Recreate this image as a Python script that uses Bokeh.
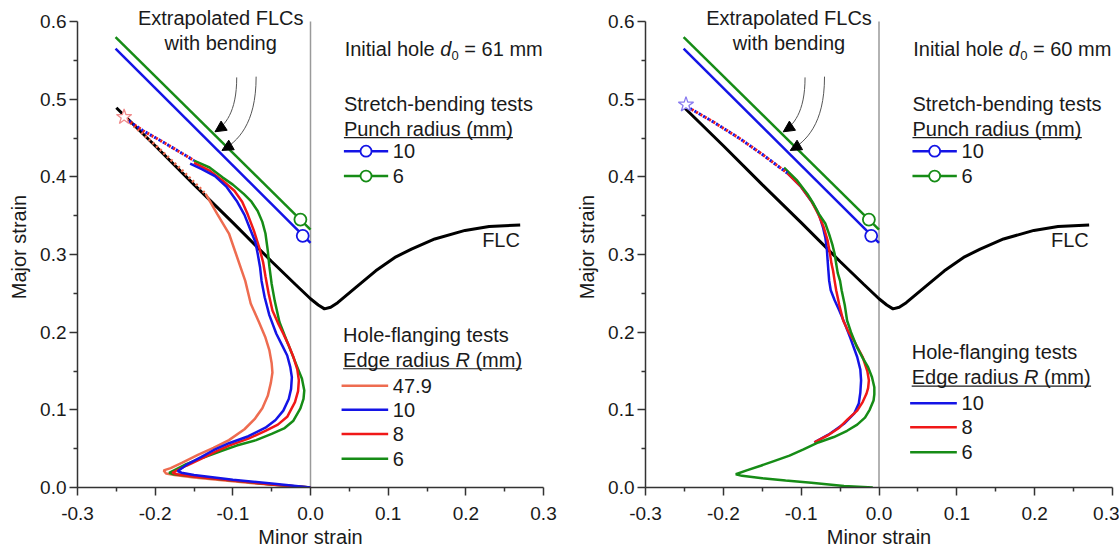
from bokeh.plotting import figure
from bokeh.layouts import row
from bokeh.models import (Range1d, Label, Arrow, NormalHead, FixedTicker,
                          PrintfTickFormatter)
from bokeh.embed import file_html
from bokeh.resources import INLINE

FONT = "Liberation Sans"
TEXT = "#1a1a1a"
AXIS = "#333333"
BLUE = "#1414e6"
RED = "#f01818"
GREEN = "#168c16"
CORAL = "#ee6c50"

# ---------------- axes ----------------
x_ticks = [-0.3, -0.2, -0.1, 0.0, 0.1, 0.2, 0.3]
x_minor = [-0.25, -0.15, -0.05, 0.05, 0.15, 0.25]
y_ticks = [0.0, 0.1, 0.2, 0.3, 0.4, 0.5, 0.6]
y_minor = [0.05, 0.15, 0.25, 0.35, 0.45, 0.55]

# ---------------- forming limit curve (both panels) ----------------
flc_x = [-0.250, -0.200, -0.150, -0.100, -0.050, -0.020, 0.000, 0.010, 0.018, 0.026,
         0.035, 0.060, 0.084, 0.110, 0.130, 0.160, 0.199, 0.230, 0.250, 0.270]
flc_y = [0.489, 0.440, 0.390, 0.341, 0.291, 0.262, 0.243, 0.235, 0.230, 0.232,
         0.238, 0.259, 0.279, 0.297, 0.307, 0.320, 0.331, 0.336, 0.337, 0.338]

# extrapolated FLCs with bending (punch radius 10 and 6 mm)
ext10_x = [-0.251, 0.000]
ext10_y = [0.565, 0.315]
ext6_x = [-0.251, 0.000]
ext6_y = [0.580, 0.332]

# stretch-bending test results
sb10_x = [-0.010]
sb10_y = [0.324]
sb6_x = [-0.013]
sb6_y = [0.345]

# arrows pointing at the extrapolated FLCs
arc_x0 = [-0.095, -0.070]
arc_y0 = [0.528, 0.529]
arc_x1 = [-0.123, -0.114]
arc_y1 = [0.458, 0.434]

# ---------------- hole-flanging strain paths, d0 = 61 mm ----------------
h61_r479_x = [-0.135, -0.120, -0.105, -0.096, -0.084, -0.077, -0.066, -0.058, -0.053, -0.050,
              -0.049, -0.051, -0.055, -0.062, -0.072, -0.085, -0.105, -0.125, -0.145, -0.165,
              -0.180, -0.189, -0.186, -0.175, -0.150, -0.120, -0.080, -0.040, 0.000]
h61_r479_y = [0.378, 0.352, 0.327, 0.301, 0.266, 0.237, 0.212, 0.193, 0.177, 0.160,
              0.148, 0.135, 0.118, 0.102, 0.088, 0.075, 0.061, 0.051, 0.042, 0.032,
              0.025, 0.022, 0.018, 0.016, 0.013, 0.010, 0.006, 0.003, 0.000]

h61_r10_x = [-0.155, -0.140, -0.123, -0.108, -0.095, -0.085, -0.077, -0.071, -0.068, -0.065,
             -0.063, -0.059, -0.053, -0.044, -0.036, -0.030, -0.026, -0.024, -0.025, -0.028,
             -0.035, -0.045, -0.058, -0.080, -0.105, -0.125, -0.141, -0.160, -0.171, -0.166,
             -0.150, -0.100, -0.050, 0.000]
h61_r10_y = [0.417, 0.410, 0.401, 0.387, 0.369, 0.351, 0.331, 0.316, 0.301, 0.284,
             0.266, 0.245, 0.222, 0.198, 0.182, 0.170, 0.155, 0.142, 0.127, 0.114,
             0.099, 0.087, 0.077, 0.066, 0.057, 0.048, 0.039, 0.029, 0.021, 0.019,
             0.016, 0.010, 0.005, 0.000]

h61_r8_x = [-0.150, -0.130, -0.113, -0.098, -0.088, -0.081, -0.073, -0.066, -0.061, -0.058,
            -0.054, -0.049, -0.042, -0.035, -0.028, -0.022, -0.017, -0.015, -0.016, -0.020,
            -0.030, -0.042, -0.058, -0.080, -0.105, -0.125, -0.141, -0.160, -0.178, -0.172,
            -0.150, -0.100, -0.050, 0.000]
h61_r8_y = [0.418, 0.408, 0.395, 0.382, 0.368, 0.352, 0.331, 0.309, 0.290, 0.272,
            0.250, 0.228, 0.212, 0.198, 0.183, 0.168, 0.152, 0.138, 0.124, 0.110,
            0.091, 0.081, 0.073, 0.063, 0.054, 0.045, 0.037, 0.028, 0.019, 0.017,
            0.014, 0.009, 0.004, 0.000]

h61_r6_x = [-0.150, -0.130, -0.113, -0.100, -0.086, -0.076, -0.068, -0.062, -0.058, -0.055,
            -0.053, -0.050, -0.046, -0.040, -0.033, -0.025, -0.017, -0.011, -0.008, -0.009,
            -0.013, -0.022, -0.034, -0.050, -0.070, -0.095, -0.115, -0.137, -0.160, -0.182,
            -0.176, -0.150, -0.100, -0.050, 0.000]
h61_r6_y = [0.421, 0.412, 0.399, 0.390, 0.378, 0.368, 0.356, 0.342, 0.327, 0.305,
            0.285, 0.262, 0.240, 0.213, 0.195, 0.175, 0.155, 0.140, 0.125, 0.114,
            0.102, 0.086, 0.076, 0.069, 0.061, 0.054, 0.047, 0.039, 0.030, 0.019,
            0.017, 0.014, 0.009, 0.004, 0.000]

# stretch-bending strain paths before necking, d0 = 61 mm
sb61_x = [-0.237, -0.215, -0.192, -0.170, -0.150]
sb61_y = [0.474, 0.459, 0.446, 0.433, 0.421]
sb61_low_x = [-0.237, -0.200, -0.165, -0.135]
sb61_low_y = [0.474, 0.441, 0.408, 0.378]
star61_x = [-0.240]
star61_y = [0.477]

# ---------------- hole-flanging strain paths, d0 = 60 mm ----------------
h60_r10_x = [-0.118, -0.100, -0.087, -0.080, -0.076, -0.072, -0.069, -0.067, -0.066, -0.065,
             -0.064, -0.062, -0.057, -0.051, -0.044, -0.037, -0.028, -0.024, -0.023, -0.024,
             -0.026, -0.032, -0.045, -0.065, -0.083]
h60_r10_y = [0.405, 0.387, 0.369, 0.357, 0.348, 0.335, 0.322, 0.307, 0.292, 0.279,
             0.266, 0.254, 0.241, 0.228, 0.211, 0.193, 0.168, 0.152, 0.138, 0.122,
             0.108, 0.095, 0.082, 0.068, 0.058]

h60_r8_x = [-0.118, -0.100, -0.087, -0.078, -0.071, -0.066, -0.063, -0.061, -0.059, -0.057,
            -0.055, -0.051, -0.046, -0.039, -0.032, -0.021, -0.015, -0.013, -0.014, -0.016,
            -0.021, -0.028, -0.040, -0.051, -0.066, -0.083]
h60_r8_y = [0.405, 0.387, 0.369, 0.352, 0.335, 0.318, 0.301, 0.288, 0.279, 0.266,
            0.254, 0.235, 0.215, 0.200, 0.189, 0.168, 0.150, 0.138, 0.128, 0.121,
            0.110, 0.099, 0.088, 0.077, 0.067, 0.058]

h60_r6_x = [-0.122, -0.105, -0.092, -0.084, -0.077, -0.069, -0.064, -0.060, -0.057, -0.055,
            -0.053, -0.050, -0.048, -0.044, -0.041, -0.036, -0.028, -0.021, -0.014, -0.009,
            -0.006, -0.006, -0.007, -0.012, -0.018, -0.028, -0.041, -0.058, -0.078, -0.097,
            -0.115, -0.135, -0.152, -0.170, -0.184, -0.176, -0.150, -0.120, -0.087, -0.045,
            -0.008]
h60_r6_y = [0.412, 0.395, 0.378, 0.365, 0.352, 0.340, 0.326, 0.313, 0.301, 0.288,
            0.276, 0.266, 0.254, 0.235, 0.215, 0.200, 0.180, 0.167, 0.155, 0.142,
            0.129, 0.120, 0.112, 0.100, 0.090, 0.081, 0.073, 0.065, 0.058, 0.049,
            0.041, 0.034, 0.028, 0.022, 0.017, 0.015, 0.012, 0.009, 0.006, 0.002,
            0.000]

sb60_x = [-0.246, -0.215, -0.180, -0.150, -0.118]
sb60_y = [0.490, 0.472, 0.450, 0.429, 0.405]
star60_x = [-0.248]
star60_y = [0.493]

TOP_BORDER = 6
BOTTOM_BORDER = 65
PX = 0.6 / 466.0                       # data units per screen pixel (both axes)
Y_END = 0.6 + (21 - TOP_BORDER) * PX   # head room above 0.6 for the top caption


def text(p, x, y, s, size="20px", style="normal", align="left", dx=0, dy=0):
    p.add_layout(Label(x=x, y=y, text=s, x_offset=dx, y_offset=dy, text_font=FONT,
                       text_font_size=size, text_font_style=style, text_align=align,
                       text_baseline="middle", text_color=TEXT))


def make_panel(width, border_left, border_right, d0_text, hf_series, hf_order, sb_path,
               sb_low_path, star, star_color, hf_head_y, hf_rows_y):
    p = figure(width=width, height=552, x_range=Range1d(-0.3, 0.3), y_range=Range1d(0.0, Y_END),
               output_backend="svg", toolbar_location=None,
               min_border_left=border_left, min_border_right=border_right,
               min_border_top=TOP_BORDER, min_border_bottom=BOTTOM_BORDER)
    p.outline_line_color = None
    p.grid.visible = False
    p.background_fill_color = "white"
    p.border_fill_color = "white"

    p.xaxis.ticker = FixedTicker(ticks=x_ticks, minor_ticks=x_minor)
    p.yaxis.ticker = FixedTicker(ticks=y_ticks, minor_ticks=y_minor)
    p.yaxis.bounds = (0.0, 0.6)
    p.xaxis.axis_label = "Minor strain"
    p.yaxis.axis_label = "Major strain"
    for ax in (p.xaxis[0], p.yaxis[0]):
        ax.formatter = PrintfTickFormatter(format="%.1f")
        ax.axis_line_color = AXIS
        ax.axis_line_width = 1.5
        ax.major_tick_line_color = AXIS
        ax.major_tick_line_width = 1.5
        ax.minor_tick_line_color = AXIS
        ax.minor_tick_line_width = 1.5
        ax.major_tick_in = 0
        ax.major_tick_out = 8
        ax.minor_tick_in = 0
        ax.minor_tick_out = 4
        ax.major_label_text_font = FONT
        ax.major_label_text_font_size = "19px"
        ax.major_label_text_color = TEXT
        ax.axis_label_text_font = FONT
        ax.axis_label_text_font_size = "20px"
        ax.axis_label_text_font_style = "normal"
        ax.axis_label_text_color = TEXT
    p.xaxis.major_label_standoff = 11
    p.xaxis.axis_label_standoff = 3
    p.yaxis.major_label_standoff = 3
    p.yaxis.axis_label_standoff = 7

    # plane-strain reference line
    p.segment(x0=[0.0], y0=[0.0], x1=[0.0], y1=[0.6], line_color="#9a9a9a", line_width=1.5)

    # extrapolated FLCs and the stretch-bending results on them
    p.line(ext6_x, ext6_y, line_color=GREEN, line_width=2.5)
    p.line(ext10_x, ext10_y, line_color=BLUE, line_width=2.5)
    p.scatter(sb6_x, sb6_y, marker="circle", size=12, fill_color="white",
              line_color=GREEN, line_width=1.8)
    p.scatter(sb10_x, sb10_y, marker="circle", size=12, fill_color="white",
              line_color=BLUE, line_width=1.8)

    # FLC
    p.line(flc_x, flc_y, line_color="black", line_width=3)

    # hole-flanging strain paths
    for key in hf_order:
        xs, ys, col, _ = hf_series[key]
        p.line(xs, ys, line_color=col, line_width=2.5)

    # stretch-bending strain paths (dotted) and fracture star
    if sb_low_path is not None:
        p.line(sb_low_path[0], sb_low_path[1], line_color=CORAL, line_width=3, line_dash="2 3")
    p.line(sb_path[0], sb_path[1], line_color=RED, line_width=3, line_dash="2 3")
    p.line(sb_path[0], sb_path[1], line_color=BLUE, line_width=3, line_dash="2 3",
           line_dash_offset=2)
    p.scatter(star[0], star[1], marker="star", size=16, fill_color="white",
              line_color=star_color, line_width=1.3)

    # curved arrows
    for x0, y0, x1, y1 in zip(arc_x0, arc_y0, arc_x1, arc_y1):
        dx, dy = x1 - x0, y1 - y0
        cx0, cy0 = x0, y0 + 0.65 * dy
        cx1, cy1 = x1 - 0.45 * dx, y1 - 0.12 * dy
        p.bezier(x0=[x0], y0=[y0], x1=[x1], y1=[y1], cx0=[cx0], cy0=[cy0], cx1=[cx1], cy1=[cy1],
                 line_color="#555555", line_width=1)
        p.add_layout(Arrow(x_start=cx1, y_start=cy1, x_end=x1, y_end=y1, line_alpha=0,
                           end=NormalHead(size=11, fill_color="black", line_color="black",
                                          line_width=1)))

    # annotation texts
    text(p, -0.1156, 0.605, "Extrapolated FLCs", align="center")
    text(p, -0.1156, 0.572, "with bending", align="center")
    text(p, 0.221, 0.319, "FLC")

    x0 = 0.044
    text(p, x0, 0.564, "Initial hole")
    text(p, x0, 0.564, "d", style="italic", dx=95.6)
    text(p, x0, 0.564, "0", size="13px", dx=106.9, dy=-6)
    text(p, x0, 0.564, "= " + d0_text + " mm", dx=119.7)

    # stretch-bending legend
    text(p, 0.043, 0.494, "Stretch-bending tests")
    text(p, 0.043, 0.462, "Punch radius (mm)")
    p.segment(x0=[0.043], y0=[0.462 - 9 * PX], x1=[0.043 + 169 * PX], y1=[0.462 - 9 * PX],
              line_color=TEXT, line_width=1.2)
    for yy, col, lab in ((0.433, BLUE, "10"), (0.401, GREEN, "6")):
        p.segment(x0=[0.043], y0=[yy], x1=[0.100], y1=[yy], line_color=col, line_width=2.5)
        p.scatter([0.0715], [yy], marker="circle", size=11, fill_color="white",
                  line_color=col, line_width=1.8)
        text(p, 0.106, yy, lab)

    # hole-flanging legend
    text(p, 0.042, hf_head_y, "Hole-flanging tests")
    ey = hf_head_y - 0.032
    text(p, 0.042, ey, "Edge radius")
    text(p, 0.042, ey, "R", style="italic", dx=112.3)
    text(p, 0.042, ey, "(mm)", dx=132.3)
    p.segment(x0=[0.042], y0=[ey - 9 * PX], x1=[0.042 + 179 * PX], y1=[ey - 9 * PX],
              line_color=TEXT, line_width=1.2)
    for key, yy in zip(hf_series.keys(), hf_rows_y):
        _, _, col, lab = hf_series[key]
        p.segment(x0=[0.040], y0=[yy], x1=[0.100], y1=[yy], line_color=col, line_width=2.5)
        text(p, 0.106, yy, lab)
    return p


left_series = {
    "47.9": (h61_r479_x, h61_r479_y, CORAL, "47.9"),
    "10": (h61_r10_x, h61_r10_y, BLUE, "10"),
    "8": (h61_r8_x, h61_r8_y, RED, "8"),
    "6": (h61_r6_x, h61_r6_y, GREEN, "6"),
}
right_series = {
    "10": (h60_r10_x, h60_r10_y, BLUE, "10"),
    "8": (h60_r8_x, h60_r8_y, RED, "8"),
    "6": (h60_r6_x, h60_r6_y, GREEN, "6"),
}

left = make_panel(560, 77, 17, "61", left_series, ["47.9", "6", "8", "10"],
                  (sb61_x, sb61_y), (sb61_low_x, sb61_low_y), (star61_x, star61_y), "#f08c8c",
                  0.1965, [0.131, 0.100, 0.069, 0.037])
right = make_panel(559, 85, 7, "60", right_series, ["10", "8", "6"],
                   (sb60_x, sb60_y), None, (star60_x, star60_y), "#8a7cf0",
                   0.174, [0.1085, 0.0776, 0.0455])

layout = row(left, right)
open("out.html", "w").write(file_html(layout, INLINE))
